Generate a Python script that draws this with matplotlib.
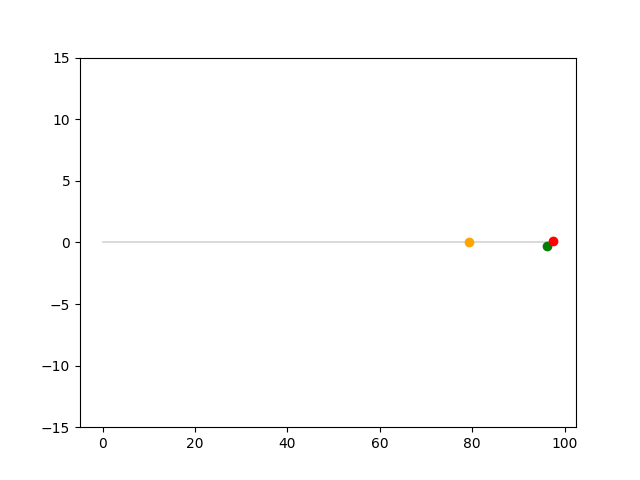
import matplotlib
matplotlib.use('Agg')
import matplotlib.pyplot as plt

# track along the x axis
track_x = [0, 97.0]
track_y = [0, 0]

# points on the track
point_x = [79.3, 96.1, 97.6]
point_y = [0.0, -0.3, 0.1]
point_colors = ['orange', 'green', 'red']

fig, ax = plt.subplots(figsize=(6.4, 4.8), dpi=100)
ax.plot(track_x, track_y, color='lightgray', linewidth=1.2)
for x, y, c in zip(point_x, point_y, point_colors):
    ax.plot(x, y, 'o', color=c)
ax.set_ylim(-15, 15)

fig.savefig('out.png')
